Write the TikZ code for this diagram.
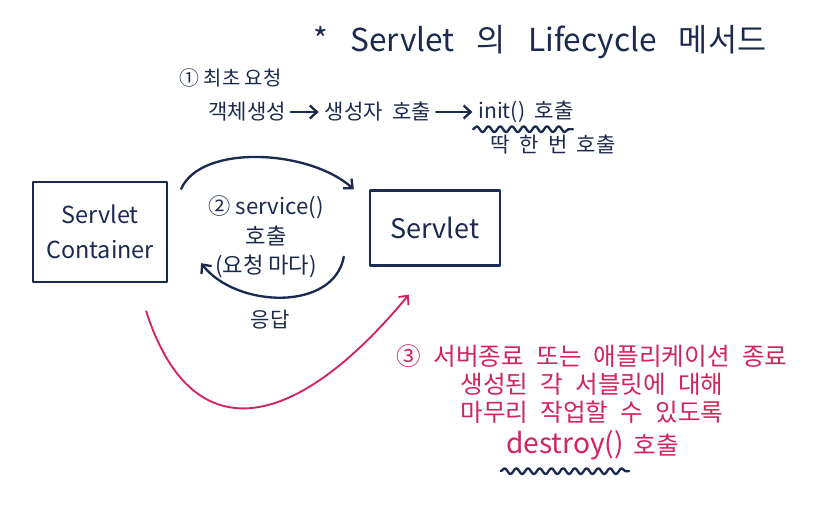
\documentclass[tikz,border=0pt]{standalone}
\usepackage{fontspec}
\newfontfamily\kr{Noto Sans CJK KR}
\newcommand\widesp[1]{\spaceskip #1\relax}
\definecolor{inknavy}{HTML}{1B2A4E}
\definecolor{inkred}{HTML}{D3245B}
\usetikzlibrary{shapes,arrows.meta,positioning,calc,decorations.pathmorphing}

\tikzset{
  box/.style={draw=inknavy, line width=2pt, inner sep=0pt, text=inknavy},
  flow/.style={draw=inknavy, line width=2pt, -{Straight Barb[length=6pt,width=11pt]}},
  redflow/.style={draw=inkred, line width=1.6pt, -{Straight Barb[length=6pt,width=11pt]}},
  wave/.style={draw=inknavy, line width=2pt, decorate, decoration={snake, amplitude=2.5pt, segment length=10pt}},
  navytext/.style={text=inknavy, inner sep=1pt, font=\kr\fontsize{18}{22}\selectfont\widesp{0.45em}},
  redtext/.style={text=inkred, inner sep=1pt, font=\kr\fontsize{21}{24}\selectfont\widesp{0.5em}},
}

\begin{document}
\begin{tikzpicture}[x=0.3mm, y=0.3mm, line cap=round, line join=round]
\useasboundingbox (0,0) rectangle (824,508);

% Title
\node[navytext, font=\kr\fontsize{27}{30}\selectfont\widesp{0.7em}] (title) at (540,466) {* Servlet 의 Lifecycle 메서드};

% Step 1: first request
\node[navytext, anchor=west, font=\kr\fontsize{17}{20}\selectfont] (first) at (178,430) {① 최초 요청};
\node[navytext] (obj) at (247,396) {객체생성};
\node[navytext] (ctor) at (378,396) {생성자 호출};
\node[navytext] (init) at (526,396) {init() 호출};
\draw[flow, shorten <=3pt, shorten >=4pt] (obj) -- (ctor);
\draw[flow, shorten <=3pt, shorten >=4pt] (ctor) -- (init);
\draw[wave] ([shift={(-4,-5)}]init.south west) -- ([shift={(-2,-5)}]init.south east);
\node[navytext] (once) at (553,363) {딱 한 번 호출};

% Container and servlet
\node[box, minimum width=40.2mm, minimum height=30mm, align=center,
      font=\kr\fontsize{20}{30}\selectfont] (sc) at (100,276) {Servlet\\Container};
\node[box, minimum width=39mm, minimum height=22.5mm,
      font=\kr\fontsize{23}{26}\selectfont] (sv) at (435,280) {Servlet};

% Step 2: service loop
\draw[flow] ([shift={(13,-8)}]sc.north east) .. controls +(20,45) and +(-45,40) .. ([shift={(-15,0)}]sv.north west);
\draw[flow] ([shift={(-25,10)}]sv.south west) .. controls +(-10,-55) and +(35,-45) .. ([shift={(33,20)}]sc.south east);
\node[navytext, align=center, font=\kr\fontsize{19}{25}\selectfont] (service) at (266,271) {② service()\\호출\\(요청 마다)};
\node[navytext] (reply) at (270,188) {응답};

% Step 3: destroy
\draw[redflow] ([shift={(-22,-28)}]sc.south east) .. controls (190,60) and (290,70) .. ([shift={(40,-28)}]sv.south west);
\node[redtext, align=center] (shutdown) at (592,124) {③ 서버종료 또는 애플리케이션 종료\\생성된 각 서블릿에 대해\\마무리 작업할 수 있도록};
\node[redtext, font=\kr\fontsize{24}{26}\selectfont] (destroy) at (565,63) {destroy()};
\node[redtext, right=6pt of destroy] (call) {호출};
\draw[wave] ([shift={(-4,-10)}]destroy.south west) -- ([shift={(4,-10)}]destroy.south east);
\end{tikzpicture}
\end{document}
